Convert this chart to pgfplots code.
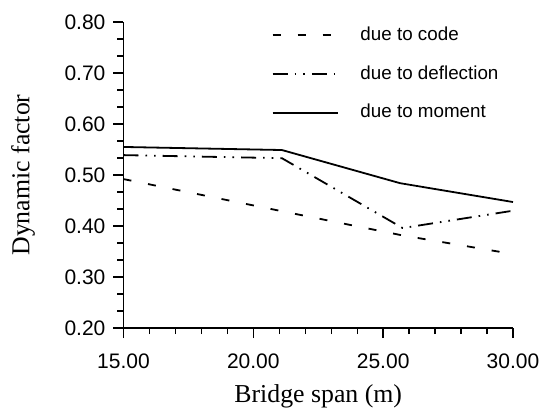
\documentclass[border=0pt]{standalone}
\usepackage{fontspec}
\setmainfont{Liberation Serif}
\setsansfont{Liberation Sans}
\usepackage{pgfplots}
\pgfplotsset{compat=1.18}

\begin{document}
\begin{tikzpicture}
% page frame, 1px of the reference = 0.5pt
\path[use as bounding box] (-61.75pt,-40pt) rectangle (208.25pt,164pt);
\begin{axis}[
    scale only axis,
    width=194.75pt,
    height=153pt,
    at={(0,0)}, anchor=south west,
    xmin=15, xmax=30,
    ymin=0.2, ymax=0.8,
    axis lines=left,
    axis line style={-, line width=0.9pt},
    xtick={15,20,25,30},
    ytick={0.2,0.3,0.4,0.5,0.6,0.7,0.8},
    minor x tick num=4,
    minor y tick num=2,
    tick align=outside,
    major tick length=5pt,
    minor tick length=3pt,
    every tick/.style={black, line width=0.7pt},
    xticklabel style={font=\sffamily\fontsize{10.5}{12}\selectfont, yshift=-4.5pt},
    yticklabel style={font=\sffamily\fontsize{10.5}{12}\selectfont, xshift=-0.5pt},
    /pgf/number format/assume math mode=true,
    /pgf/number format/.cd, fixed, fixed zerofill, precision=2, /pgfplots/.cd,
    xlabel={Bridge span (m)},
    ylabel={Dynamic factor},
    label style={font=\fontsize{12.9}{14}\selectfont},
    xlabel style={yshift=-1pt},
    ylabel style={yshift=8pt},
    legend style={draw=none, fill=none, at={(0.364,1.011)}, anchor=north west,
        font=\sffamily\fontsize{9.4}{11}\selectfont, row sep=7pt,
        nodes={inner xsep=11pt}},
    legend cell align=left,
    legend image code/.code={\draw[#1] (0pt,0pt) -- (32.5pt,0pt);},
]
\addplot[black, line width=0.9pt, dash pattern=on 4pt off 8.5pt]
    coordinates {(15,0.492) (21.1,0.429) (25.7,0.382) (30,0.345)};
\addlegendentry{due to code}
\addplot[black, line width=0.9pt, dash pattern=on 7.5pt off 3.5pt on 0.8pt off 3.5pt on 0.8pt off 3.5pt]
    coordinates {(15,0.539) (21.1,0.533) (25.75,0.396) (30,0.430)};
\addlegendentry{due to deflection}
\addplot[black, line width=0.9pt]
    coordinates {(15,0.555) (21.1,0.549) (25.65,0.484) (30,0.447)};
\addlegendentry{due to moment}
\end{axis}
\end{tikzpicture}
\end{document}
